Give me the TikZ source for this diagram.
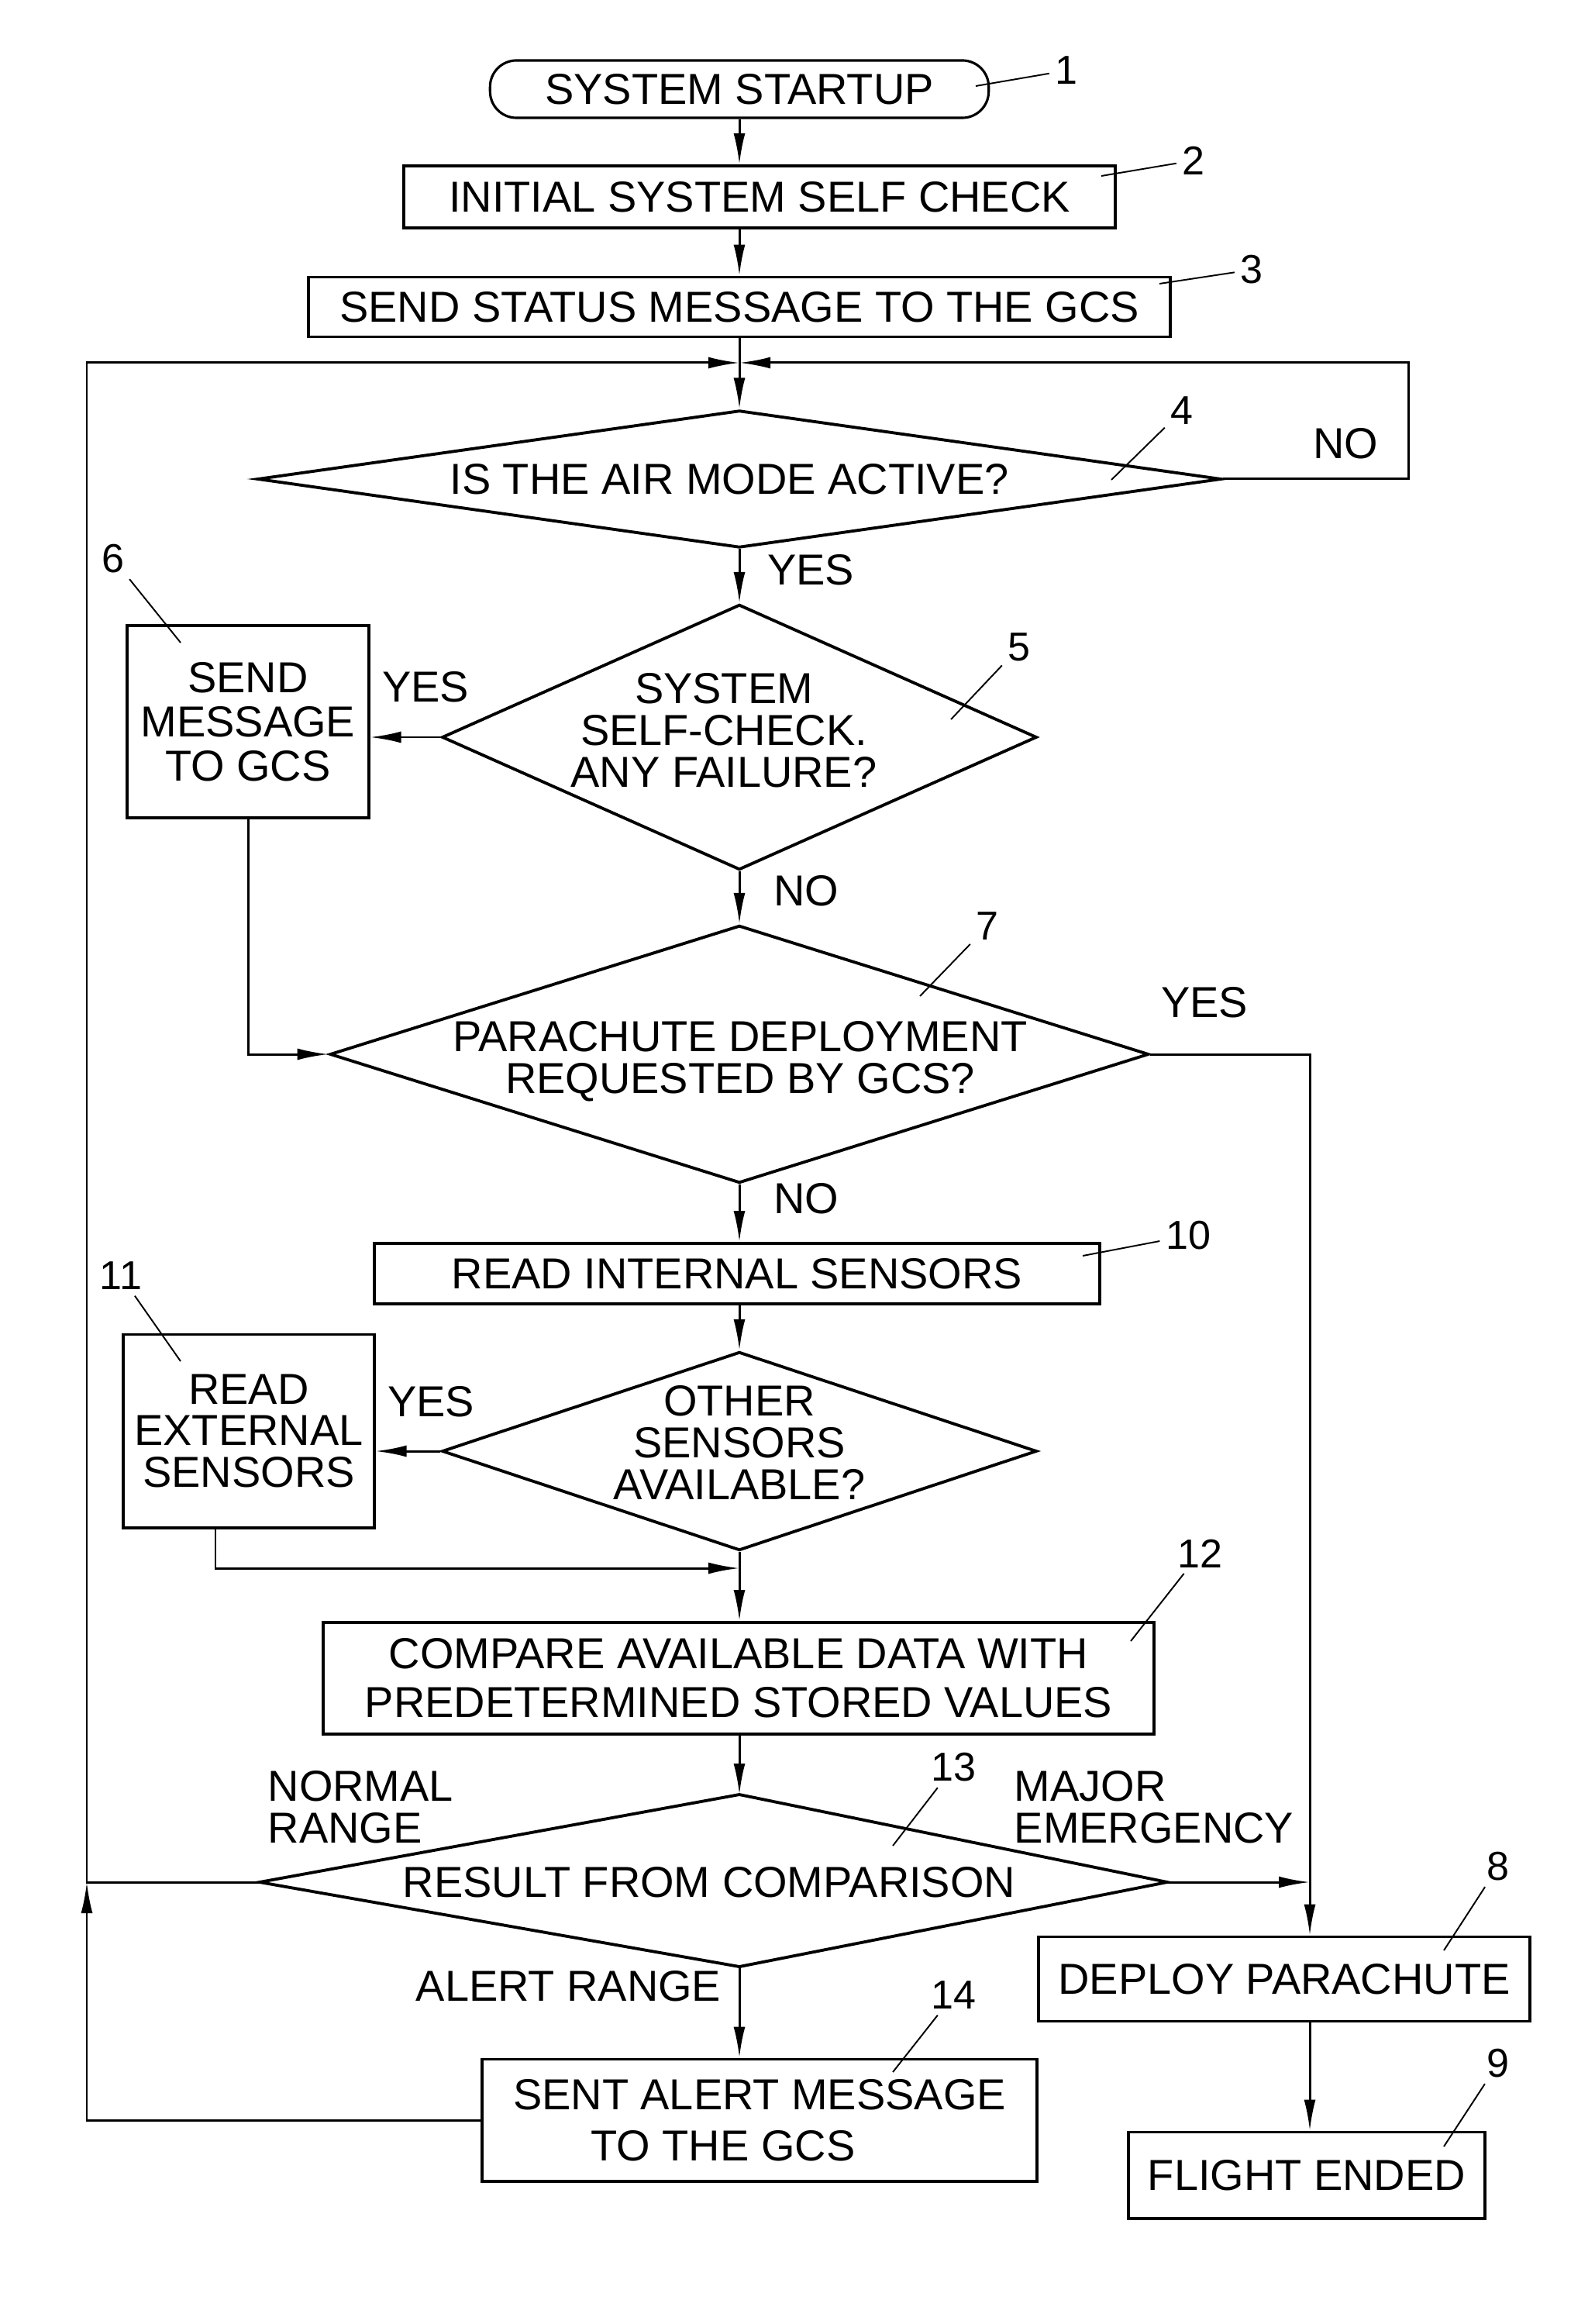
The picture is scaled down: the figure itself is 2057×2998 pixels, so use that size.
\documentclass[tikz,border=0pt]{standalone}
\usepackage{fontspec}
\setmainfont{Liberation Sans}
\usetikzlibrary{shapes.geometric,arrows.meta,positioning,calc}
\newcommand\flowfont{\fontsize{15.9pt}{15.3pt}\selectfont}
\newcommand\numfont{\fontsize{14.8pt}{15pt}\selectfont}
\begin{document}
\begin{tikzpicture}[
                        x=0.01cm, y=-0.01cm,
                        >={Latex[length=0.4cm,width=0.15cm]},
                        every node/.style={font=\flowfont},
                        block/.style={rectangle, draw, line width=1.1pt, inner sep=0pt, align=center},
                        term/.style={rectangle, draw, line width=0.9pt, rounded corners=0.34cm, inner sep=0pt},
                        dia/.style={diamond, draw, line width=1.1pt, inner sep=0pt},
                        txt/.style={align=center, inner sep=0pt},
                        lab/.style={inner sep=0pt},
                        num/.style={font=\numfont, inner sep=2pt},
                        leader/.style={line width=0.55pt},
                        flow/.style={line width=0.85pt}
                    ]
                    \useasboundingbox (0,0) rectangle (2057,2998);

                    % Blocks
                    \node [term, minimum width=6.43cm, minimum height=0.74cm] (start) at (954,115) {SYSTEM STARTUP};
                    \node [block, minimum width=9.17cm, minimum height=0.80cm] (check) at (980,254) {INITIAL SYSTEM SELF CHECK};
                    \node [block, minimum width=11.11cm, minimum height=0.77cm] (status) at (954,396) {SEND STATUS MESSAGE TO THE GCS};
                    \node [dia, minimum width=12.43cm, minimum height=1.77cm] (air) at (954,618) {};
                    \node [txt] (airtxt) at (941,618) {IS THE AIR MODE ACTIVE?};
                    \node [dia, minimum width=7.67cm, minimum height=3.42cm] (fail) at (954,951) {};
                    \node [txt] (failtxt) at (934,942) {SYSTEM\\SELF-CHECK.\\ANY FAILURE?};
                    \node [block, minimum width=3.11cm, minimum height=2.48cm] (sendmsg) at (320,931) {SEND\\[0.9pt]MESSAGE\\[0.9pt]TO GCS};
                    \node [dia, minimum width=10.56cm, minimum height=3.32cm] (req) at (954,1360) {};
                    \node [txt] (reqtxt) at (955,1369) {PARACHUTE DEPLOYMENT\\REQUESTED BY GCS?};
                    \node [block, minimum width=9.36cm, minimum height=0.78cm] (intsens) at (951,1643) {READ INTERNAL SENSORS};
                    \node [dia, minimum width=7.67cm, minimum height=2.56cm] (sens) at (954,1872) {};
                    \node [txt] (senstxt) at (954,1861) {OTHER\\SENSORS\\AVAILABLE?};
                    \node [block, minimum width=3.23cm, minimum height=2.49cm] (extsens) at (321,1846) {READ\\EXTERNAL\\SENSORS};
                    \node [block, minimum width=10.72cm, minimum height=1.44cm] (compare) at (953,2165) {COMPARE AVAILABLE DATA WITH\\[2.6pt]PREDETERMINED STORED VALUES};
                    \coordinate (cmpT) at (954,2315);
                    \coordinate (cmpR) at (1506,2428);
                    \coordinate (cmpB) at (954,2537);
                    \coordinate (cmpL) at (335,2428);
                    \draw [line width=1.1pt] (cmpT) -- (cmpR) -- (cmpB) -- (cmpL) -- cycle;
                    \node [txt] (cmptxt) at (915,2428) {RESULT FROM COMPARISON};
                    \node [block, minimum width=7.15cm, minimum height=1.57cm] (alert) at (980,2735) {SENT ALERT MESSAGE\\[3.4pt]TO THE GCS\kern0.94cm\mbox{}};
                    \node [block, minimum width=6.33cm, minimum height=1.09cm] (deploy) at (1657,2553) {DEPLOY PARACHUTE};
                    \node [block, minimum width=4.59cm, minimum height=1.11cm] (ended) at (1686,2806) {FLIGHT ENDED};

                    % Junctions
                    \coordinate (jn) at (954,468);
                    \coordinate (rj) at (1817,468);
                    \coordinate (lj) at (112,2428);
                    \coordinate (rcol) at (1690,2428);
                    \coordinate (merge) at (954,2023);

                    % Labels
                    \node [lab] (yes1) at (1046,735) {YES};
                    \node [lab] (no1) at (1736,572) {NO};
                    \node [lab] (yes2) at (549,886) {YES};
                    \node [lab] (no2) at (1040,1149) {NO};
                    \node [lab] (yes3) at (1554,1293) {YES};
                    \node [lab] (no3) at (1040,1546) {NO};
                    \node [lab] (yes4) at (556,1808) {YES};
                    \node [lab, anchor=west, align=left] (normal) at (345,2331) {NORMAL\\RANGE};
                    \node [lab, anchor=west, align=left] (major) at (1308,2331) {MAJOR\\EMERGENCY};
                    \node [lab, anchor=east] (alertr) at (931,2562) {ALERT RANGE};

                    % Reference numbers
                    \foreach \n/\lx/\ly/\ax/\ay in {1/1376/91/1259/111, 2/1540/207/1421/227, 3/1615/348/1496/366,
                        4/1525/530/1434/619, 5/1315/835/1227/928, 6/146/721/233/829, 7/1274/1195/1187/1285,
                        8/1933/2408/1863/2516, 9/1933/2662/1863/2769, 10/1533/1594/1397/1620,
                        11/156/1646/233/1756, 12/1548/2004/1459/2117, 13/1230/2280/1152/2381, 14/1230/2574/1152/2673}
                    {
                        \node [num] (num\n) at (\lx,\ly) {\n};
                        \coordinate (tip\n) at (\ax,\ay);
                        \draw [leader] (tip\n) -- (num\n);
                    }

                    % Connections
                    \draw [flow,->] (start.south) -- (start.south |- check.north);
                    \draw [flow,->] (status.north |- check.south) -- (status.north);
                    \draw [flow] (status.south) -- (jn);
                    \draw [flow,->] (jn) -- (air.north);
                    \draw [flow,->] (air.east) -| (rj) -- (jn);
                    \draw [flow,->] (cmpL) -- (lj) |- (jn);
                    \draw [flow,->] (alert.west) -| (lj);
                    \draw [flow,->] (air.south) -- (fail.north);
                    \draw [flow,->] (fail.west) -- (fail.west -| sendmsg.east);
                    \draw [flow,->] (fail.south) -- (req.north);
                    \draw [flow,->] (sendmsg.south) |- (req.west);
                    \draw [flow,->] (req.east) -| (rcol |- deploy.north);
                    \draw [flow,->] (req.south) -- (req.south |- intsens.north);
                    \draw [flow,->] (intsens.south -| sens.north) -- (sens.north);
                    \draw [flow,->] (sens.west) -- (sens.west -| extsens.east);
                    \draw [flow,->] (sens.south) -- (sens.south |- compare.north);
                    \draw [flow,->] ($(extsens.south)+(-43,0)$) |- (merge);
                    \draw [flow,->] (compare.south -| cmpT) -- (cmpT);
                    \draw [flow,->] (cmpR) -- (rcol);
                    \draw [flow,->] (cmpB) -- (cmpB |- alert.north);
                    \draw [flow,->] (rcol |- deploy.south) -- (rcol |- ended.north);
                \end{tikzpicture}
\end{document}
